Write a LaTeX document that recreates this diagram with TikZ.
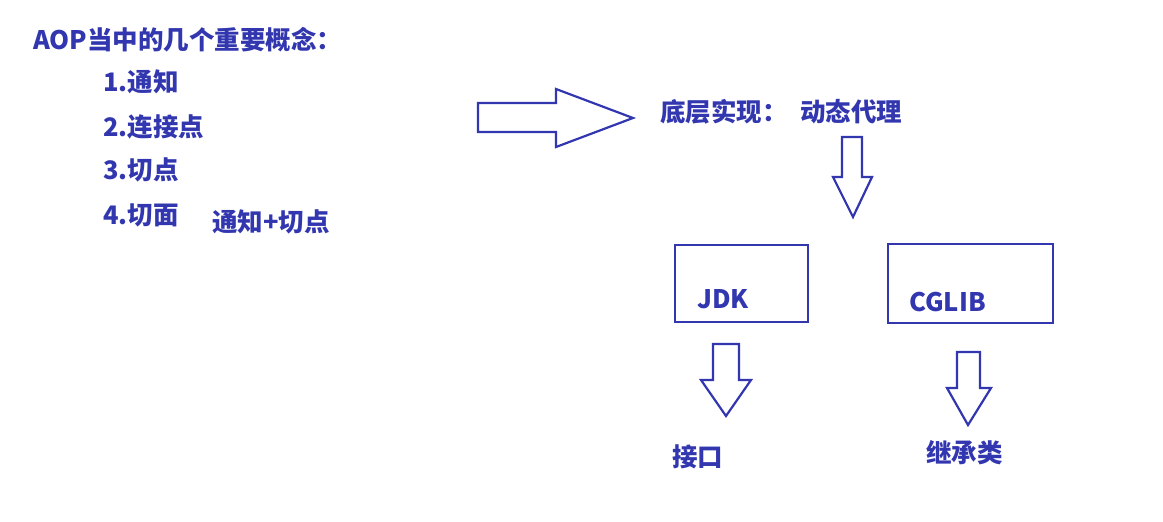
\documentclass[tikz,border=0pt]{standalone}
\usepackage{fontspec}
\setmainfont{Noto Sans CJK SC}
\definecolor{ink}{RGB}{50,55,175}

\begin{document}
\begin{tikzpicture}[x=1pt,y=-1pt,line join=miter]
 \tikzstyle{every node}=[text=ink,font=\bfseries\fontsize{25.5}{30}\selectfont,inner sep=0pt,anchor=west]
 \tikzstyle{box}=[draw=ink,line width=2.2pt,anchor=center]
 \tikzstyle{fat}=[draw=ink,line width=2.2pt]
 \useasboundingbox (0,0) rectangle (1163,522);

 % concepts
 \node (title) at (33,40)  {AOP当中的几个重要概念：};
 \node (advice)   at (103,82)  {1.通知};
 \node (joinpt)   at (103,127) {2.连接点};
 \node (pointcut) at (103,170) {3.切点};
 \node (aspect)   at (103,215) {4.切面};
 \node (sum)      at (212,222) {通知+切点};

 % implementation
 \node (impl)  at (660,112) {底层实现：};
 \node (proxy) at (800,112) {动态代理};
 \node[box,minimum width=133,minimum height=77] (jdkbox)   at (741.5,283.5) {};
 \node[box,minimum width=165,minimum height=79] (cglibbox) at (970.5,283.5) {};
 \node (jdk)   at (697,299) {JDK};
 \node (cglib) at (909,302) {CGLIB};
 \node (iface)   at (672,457) {接口};
 \node (inherit) at (926,453) {继承类};

 % block arrows
 \draw[fat] (478,103) -- (556,103) -- (556,89) -- (633,118) -- (556,147) -- (556,132) -- (478,132) -- cycle;
 \draw[fat] (842,137) -- (862,137) -- (862,177) -- (872,177) -- (853,217) -- (833,177) -- (842,177) -- cycle;
 \draw[fat] (713,344) -- (739,344) -- (739,380) -- (751,380) -- (726,416) -- (701,380) -- (713,380) -- cycle;
 \draw[fat] (957,352) -- (980,352) -- (980,388) -- (991,388) -- (968,425) -- (947,388) -- (957,388) -- cycle;
\end{tikzpicture}
\end{document}
